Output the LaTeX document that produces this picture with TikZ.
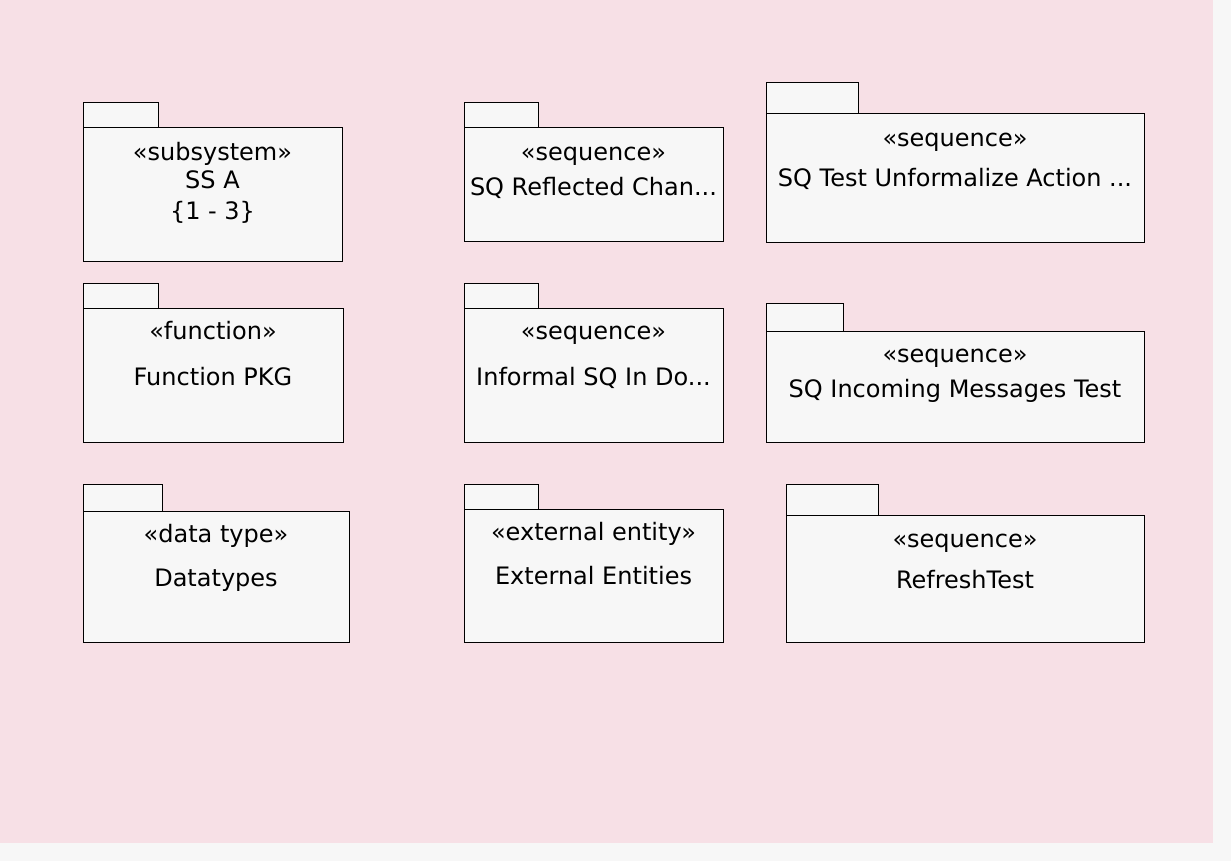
\documentclass[tikz,border=0pt]{standalone}
\usepackage{fontspec}
\setmainfont{DejaVu Sans}
\definecolor{bgpink}{HTML}{F7E0E6}
\definecolor{bggray}{HTML}{F7F7F7}
\definecolor{boxfill}{HTML}{F7F7F7}
\begin{document}
\begin{tikzpicture}[x=1pt,y=-1pt,
  pkgpart/.style={draw=black, fill=boxfill, line width=1pt, inner sep=0pt, outer sep=0pt},
  lbl/.style={font=\fontsize{24}{28}\selectfont, inner sep=0pt, anchor=base}]
\fill[bggray] (0,0) rectangle (1231,861);
\fill[bgpink] (0,0) rectangle (1213,843);
\useasboundingbox (0,0) rectangle (1231,861);

% SS A
\node[pkgpart, minimum width=75, minimum height=25, anchor=north west] (ssa-tab) at (83,103) {};
\node[pkgpart, minimum width=259, minimum height=133, anchor=north west] (ssa) at (83,128) {};
\node[lbl] (ssa-st) at (ssa.center |- 0,161) {«subsystem»};
\node[lbl] (ssa-nm) at (ssa.center |- 0,189) {SS A};
\node[lbl] (ssa-mul) at (ssa.center |- 0,219) {\{1 - 3\}};

% SQ Reflected
\node[pkgpart, minimum width=74, minimum height=25, anchor=north west] (refl-tab) at (464,103) {};
\node[pkgpart, minimum width=259, minimum height=113, anchor=north west] (refl) at (464,128) {};
\node[lbl] (refl-st) at (refl.center |- 0,161) {«sequence»};
\node[lbl] (refl-nm) at (refl.center |- 0,196) {SQ Reflected Chan...};

% SQ Test Unformalize
\node[pkgpart, minimum width=92, minimum height=31, anchor=north west] (unf-tab) at (766,83) {};
\node[pkgpart, minimum width=378, minimum height=128, anchor=north west] (unf) at (766,114) {};
\node[lbl] (unf-st) at (unf.center |- 0,147) {«sequence»};
\node[lbl] (unf-nm) at (unf.center |- 0,186) {SQ Test Unformalize Action ...};

% Function PKG
\node[pkgpart, minimum width=75, minimum height=25, anchor=north west] (fn-tab) at (83,283) {};
\node[pkgpart, minimum width=260, minimum height=134, anchor=north west] (fn) at (83,308) {};
\node[lbl] (fn-st) at (fn.center |- 0,339) {«function»};
\node[lbl] (fn-nm) at (fn.center |- 0,385) {Function PKG};

% Informal SQ
\node[pkgpart, minimum width=74, minimum height=25, anchor=north west] (inf-tab) at (464,283) {};
\node[pkgpart, minimum width=259, minimum height=134, anchor=north west] (inf) at (464,308) {};
\node[lbl] (inf-st) at (inf.center |- 0,339) {«sequence»};
\node[lbl] (inf-nm) at (inf.center |- 0,385) {Informal SQ In Do...};

% SQ Incoming
\node[pkgpart, minimum width=77, minimum height=28, anchor=north west] (inc-tab) at (766,303) {};
\node[pkgpart, minimum width=378, minimum height=111, anchor=north west] (inc) at (766,331) {};
\node[lbl] (inc-st) at (inc.center |- 0,362) {«sequence»};
\node[lbl] (inc-nm) at (inc.center |- 0,397) {SQ Incoming Messages Test};

% Datatypes
\node[pkgpart, minimum width=79, minimum height=27, anchor=north west] (dt-tab) at (83,484) {};
\node[pkgpart, minimum width=266, minimum height=131, anchor=north west] (dt) at (83,511) {};
\node[lbl] (dt-st) at (dt.center |- 0,542) {«data type»};
\node[lbl] (dt-nm) at (dt.center |- 0,586) {Datatypes};

% External Entities
\node[pkgpart, minimum width=74, minimum height=25, anchor=north west] (ext-tab) at (464,484) {};
\node[pkgpart, minimum width=259, minimum height=133, anchor=north west] (ext) at (464,509) {};
\node[lbl] (ext-st) at (ext.center |- 0,540) {«external entity»};
\node[lbl] (ext-nm) at (ext.center |- 0,584) {External Entities};

% RefreshTest
\node[pkgpart, minimum width=92, minimum height=31, anchor=north west] (ref-tab) at (786,484) {};
\node[pkgpart, minimum width=358, minimum height=127, anchor=north west] (ref) at (786,515) {};
\node[lbl] (ref-st) at (ref.center |- 0,547) {«sequence»};
\node[lbl] (ref-nm) at (ref.center |- 0,588) {RefreshTest};
\end{tikzpicture}
\end{document}
